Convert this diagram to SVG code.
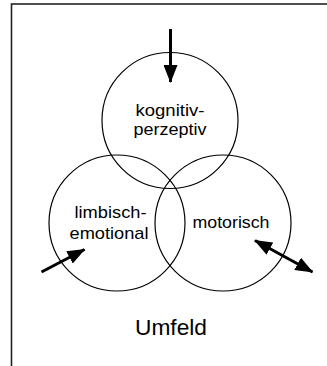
<svg xmlns="http://www.w3.org/2000/svg" width="327" height="366" viewBox="0 0 327 366">
<defs>
<style>
.c{fill:none;stroke:#000;stroke-width:1.2}
.a{stroke:#000;stroke-width:3;fill:none}
text{font-family:"Liberation Sans",Arial,sans-serif;fill:#000;text-anchor:middle}
.t{font-size:16.4px}
.u{font-size:22.5px}
</style>
<marker id="h" viewBox="0 0 18 14" refX="17" refY="7" markerWidth="18" markerHeight="14" markerUnits="userSpaceOnUse" orient="auto-start-reverse">
<polygon points="0,0 18,7 0,14" fill="#000"/>
</marker>
</defs>
<rect x="11.5" y="4" width="330" height="380" fill="none" stroke="#222" stroke-width="1.6"/>
<g id="kognitiv">
<circle class="c" cx="170" cy="120.5" r="68"/>
<text class="t" x="170" y="116.2" textLength="69" lengthAdjust="spacingAndGlyphs">kognitiv-</text>
<text class="t" x="170" y="134.7" textLength="73" lengthAdjust="spacingAndGlyphs">perzeptiv</text>
</g>
<g id="limbisch">
<circle class="c" cx="117" cy="223" r="68"/>
<text class="t" x="110.5" y="218" textLength="72" lengthAdjust="spacingAndGlyphs">limbisch-</text>
<text class="t" x="109" y="239" textLength="79" lengthAdjust="spacingAndGlyphs">emotional</text>
</g>
<g id="motorisch">
<circle class="c" cx="223" cy="223" r="68"/>
<text class="t" x="231" y="228" textLength="77" lengthAdjust="spacingAndGlyphs">motorisch</text>
</g>
<g id="umfeld">
<text class="u" x="171" y="335" textLength="72" lengthAdjust="spacingAndGlyphs">Umfeld</text>
</g>
<g id="connectors">
<line class="a" x1="170.5" y1="29" x2="170.5" y2="82" marker-end="url(#h)"/>
<line class="a" x1="41.5" y1="272" x2="84.5" y2="249.5" marker-end="url(#h)"/>
<line class="a" x1="255" y1="240.5" x2="312.5" y2="272" marker-start="url(#h)" marker-end="url(#h)"/>
</g>
</svg>
